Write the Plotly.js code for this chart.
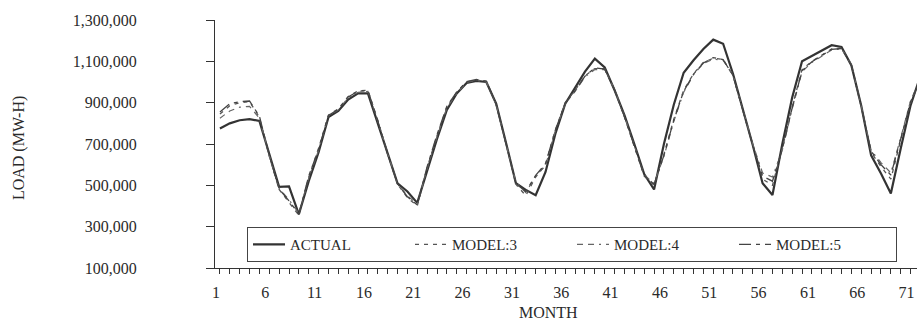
<!DOCTYPE html>
<html><head><meta charset="utf-8">
<script src="https://cdn.plot.ly/plotly-3.0.1.min.js"></script>
<style>html,body{margin:0;padding:0;background:#fff}#chart{width:917px;height:320px}</style>
</head><body><div id="chart"></div>
<script>
const months = [1,2,3,4,5,6,7,8,9,10,11,12,13,14,15,16,17,18,19,20,21,22,23,24,25,26,27,28,29,30,31,32,33,34,35,36,
  37,38,39,40,41,42,43,44,45,46,47,48,49,50,51,52,53,54,55,56,57,58,59,60,61,62,63,64,65,66,67,68,69,70,71,72];

const actual = [775000,800000,815000,820000,812000,650000,493000,495000,360000,520000,660000,830000,
  860000,915000,945000,945000,805000,655000,510000,470000,415000,570000,725000,865000,
  945000,995000,1005000,1000000,895000,705000,510000,478000,452000,565000,750000,895000,
  975000,1050000,1113000,1070000,960000,840000,700000,555000,480000,700000,890000,1045000,
  1105000,1160000,1205000,1185000,1040000,870000,695000,510000,453000,700000,925000,1100000,
  1125000,1150000,1178000,1170000,1080000,885000,645000,557000,460000,678000,887000,1030000];

const model3 = [845000,885000,900000,905000,830000,640000,480000,420000,355000,540000,680000,840000,
  870000,930000,958000,960000,815000,650000,505000,440000,400000,585000,740000,880000,
  950000,1000000,1010000,1002000,890000,700000,505000,450000,540000,600000,770000,900000,
  960000,1030000,1065000,1065000,960000,830000,690000,545000,500000,650000,820000,960000,
  1040000,1095000,1115000,1110000,1030000,860000,690000,530000,500000,680000,880000,1060000,
  1100000,1130000,1160000,1165000,1080000,880000,660000,590000,530000,720000,900000,1010000];

const model4 = [825000,860000,878000,882000,825000,645000,485000,430000,365000,535000,670000,835000,
  865000,925000,950000,955000,810000,655000,505000,450000,410000,580000,735000,875000,
  945000,998000,1008000,1000000,890000,700000,515000,465000,545000,595000,765000,895000,
  955000,1025000,1060000,1060000,965000,835000,695000,550000,510000,640000,810000,950000,
  1035000,1090000,1110000,1105000,1035000,865000,700000,560000,540000,670000,870000,1050000,
  1095000,1125000,1155000,1160000,1085000,885000,670000,610000,560000,730000,910000,1015000];

const model5 = [855000,895000,905000,908000,835000,645000,482000,425000,360000,545000,675000,838000,
  868000,928000,955000,958000,812000,652000,508000,445000,405000,590000,745000,882000,
  952000,1002000,1012000,1004000,892000,702000,508000,470000,548000,605000,768000,898000,
  958000,1028000,1068000,1062000,962000,832000,692000,548000,505000,645000,815000,955000,
  1038000,1092000,1118000,1108000,1032000,862000,695000,545000,520000,675000,875000,1055000,
  1098000,1128000,1158000,1162000,1082000,882000,665000,600000,550000,725000,905000,1012000];

const seriesNames = ['ACTUAL','MODEL:3','MODEL:4','MODEL:5'];
const xTickVals = [1,6,11,16,21,26,31,36,41,46,51,56,61,66,71];
const xTickText = ['1','6','11','16','21','26','31','36','41','46','51','56','61','66','71'];
const yTickVals = [100000,300000,500000,700000,900000,1100000,1300000];

const FONT = 'Liberation Serif, Times New Roman, serif';
const INK = '#2a2a2a';

const traces = [
  {x: months, y: actual, name: seriesNames[0], mode: 'lines',
   line: {color: '#333', width: 2.2}},
  {x: months, y: model3, name: seriesNames[1], mode: 'lines',
   line: {color: '#555', width: 1.3, dash: '4px,5px'}},
  {x: months, y: model4, name: seriesNames[2], mode: 'lines',
   line: {color: '#666', width: 1.2, dash: '6px,5px,6px,5px,2px,5px'}},
  {x: months, y: model5, name: seriesNames[3], mode: 'lines',
   line: {color: '#444', width: 1.3, dash: '12px,5px,4px,5px'}}
];

const layout = {
  width: 917, height: 320,
  margin: {l: 215, r: 0, t: 20, b: 52, pad: 0},
  paper_bgcolor: '#fff', plot_bgcolor: '#fff',
  font: {family: FONT, size: 16, color: INK},
  showlegend: true,
  xaxis: {
    range: [0.5, 71.65], showgrid: false, zeroline: false,
    showline: true, linecolor: '#333', linewidth: 1,
    tickmode: 'array', tickvals: xTickVals, ticktext: xTickText,
    ticks: 'outside', ticklen: 5, tickcolor: '#333', tickwidth: 1,
    minor: {dtick: 1, tick0: 1, ticks: 'outside', ticklen: 5, tickcolor: '#333', showgrid: false},
    ticklabelshift: -4, ticklabelstandoff: 5,
    tickfont: {family: FONT, size: 16, color: INK}
  },
  yaxis: {
    range: [100000, 1300000], showgrid: false, zeroline: false,
    showline: true, linecolor: '#333', linewidth: 1,
    tickmode: 'array', tickvals: yTickVals, tickformat: ',',
    ticks: 'outside', ticklen: 8, tickcolor: '#333', tickwidth: 1,
    ticklabelstandoff: 66,
    tickfont: {family: FONT, size: 16, color: INK}
  },
  legend: {
    orientation: 'h', x: 0.0456, y: 0.165, xanchor: 'left', yanchor: 'top',
    bgcolor: '#fff', bordercolor: '#444', borderwidth: 1,
    font: {family: FONT, size: 15, color: INK},
    itemwidth: 32, entrywidth: 115, entrywidthmode: 'pixels',
    traceorder: 'normal'
  },
  annotations: [
    {text: 'MONTH', xref: 'paper', yref: 'paper', x: 0.4744, y: -0.181,
     xanchor: 'center', yanchor: 'middle', showarrow: false,
     font: {family: FONT, size: 16, color: INK}},
    {text: 'LOAD (MW-H)', xref: 'paper', yref: 'paper', x: -0.279, y: 0.484,
     xanchor: 'center', yanchor: 'middle', textangle: -90, showarrow: false,
     font: {family: FONT, size: 16, color: INK}}
  ]
};

Plotly.newPlot('chart', traces, layout, {staticPlot: true, displayModeBar: false});
</script>
</body></html>
